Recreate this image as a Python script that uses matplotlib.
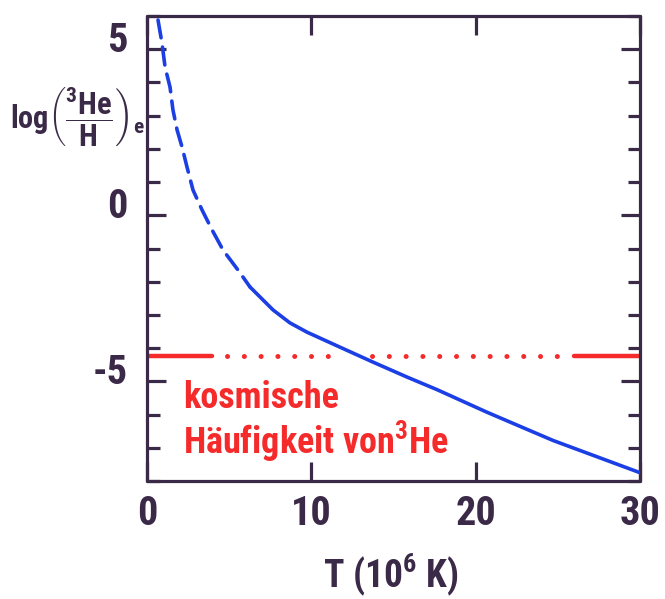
import matplotlib
matplotlib.use("Agg")
import matplotlib.pyplot as plt
import matplotlib.font_manager as fm
from matplotlib.ticker import FixedLocator, MultipleLocator
from matplotlib.transforms import ScaledTranslation

# ---- data -------------------------------------------------------------
# equilibrium 3He/H abundance vs. temperature (dashed: extrapolated part)
t_dashed = [0.67, 0.91, 1.10, 1.40, 1.58, 1.83, 2.13, 2.43, 2.80, 3.35,
            3.96, 4.63, 5.54, 6.27]
log_dashed = [5.88, 5.19, 4.46, 3.86, 3.17, 2.57, 2.06, 1.46, 0.76, 0.16,
              -0.44, -1.05, -1.65, -2.16]
t_solid = [6.27, 7.67, 8.70, 9.74, 11.74, 13.75, 15.82, 17.65, 20.69,
           24.71, 30.0]
log_solid = [-2.16, -2.85, -3.24, -3.52, -3.97, -4.42, -4.87, -5.25, -5.93,
             -6.78, -7.75]

# cosmic 3He abundance level and the pieces of its marker line
cosmic_level = -4.24
cosmic_solid_spans = [(0.0, 3.95), (26.0, 30.0)]
cosmic_dotted_spans = [(4.87, 11.7), (13.7, 25.4)]

x_ticks = [0, 10, 20, 30]
x_ticklabels = ["0", "10", "20", "30"]
y_major = [5, 0, -5]
y_ticklabels = ["5", "0", "-5"]

# ---- style ------------------------------------------------------------
INK = "#3b2948"
BLUE = "#1b3fe4"
RED = "#f52b2b"


def pick_family():
    names = {f.name for f in fm.fontManager.ttflist}
    for cand in ["Roboto Condensed", "Liberation Sans Narrow",
                 "Open Sans Condensed", "DejaVu Sans"]:
        if cand in names:
            return cand
    return "DejaVu Sans"


FAMILY = pick_family()
plt.rcParams["font.family"] = [FAMILY, "DejaVu Sans"]
plt.rcParams["font.weight"] = "bold"
plt.rcParams["mathtext.fontset"] = "custom"
plt.rcParams["mathtext.rm"] = f"{FAMILY}:bold"
plt.rcParams["mathtext.it"] = f"{FAMILY}:bold"
plt.rcParams["mathtext.bf"] = f"{FAMILY}:bold"

fig = plt.figure(figsize=(6.65, 5.99), dpi=100)
ax = fig.add_axes([147 / 665, 1 - 481 / 599, 493 / 665, 465 / 599])

# ---- curves -----------------------------------------------------------
ax.plot(t_dashed, log_dashed, color=BLUE, lw=2.6,
        linestyle=(0, (5.0, 2.6)), dash_capstyle="round",
        solid_joinstyle="round", zorder=3)
ax.plot(t_solid, log_solid, color=BLUE, lw=2.6,
        solid_capstyle="round", solid_joinstyle="round", zorder=3)

for a, b in cosmic_solid_spans:
    ax.plot([a, b], [cosmic_level, cosmic_level], color=RED, lw=3.2,
            solid_capstyle="round", zorder=2)
for a, b in cosmic_dotted_spans:
    ax.plot([a, b], [cosmic_level, cosmic_level], color=RED, lw=3.6,
            linestyle=(0, (0.01, 3.35)), dash_capstyle="round", zorder=2)

ax.text(2.2, -4.95, "kosmische", color=RED, fontsize=26,
        ha="left", va="top", fontweight="bold")
ax.text(2.2, -6.1, r"Häufigkeit von$^{3}$He", color=RED, fontsize=26,
        ha="left", va="top", fontweight="bold")

# ---- axes -------------------------------------------------------------
ax.set_xlim(0, 30)
ax.set_ylim(-8, 6)
for s in ax.spines.values():
    s.set_color(INK)
    s.set_linewidth(2.3)
    s.set_capstyle("round")

ax.xaxis.set_major_locator(FixedLocator(x_ticks))
ax.set_xticklabels(x_ticklabels)
ax.yaxis.set_major_locator(FixedLocator(y_major))
ax.yaxis.set_minor_locator(MultipleLocator(1))
ax.set_yticklabels(y_ticklabels)

ax.tick_params(which="both", direction="in", top=True, right=True,
               color=INK, width=2.3, labelcolor=INK, labelsize=29)
ax.tick_params(axis="x", which="major", length=14, pad=10)
ax.tick_params(axis="y", which="major", length=14, pad=14)
ax.tick_params(axis="y", which="minor", length=9)

# hand-lettered y labels sit a little above their ticks
for lab in ax.get_yticklabels():
    lab.set_transform(lab.get_transform() +
                      ScaledTranslation(0, 9 / 72, fig.dpi_scale_trans))

fig.text(391 / 665, 1 - 575 / 599, r"T (10$^{6}$ K)", color=INK,
         fontsize=27, ha="center", va="center", fontweight="bold")
fig.text(10 / 665, 1 - 116 / 599,
         r"$\mathrm{log}\left(\dfrac{^{3}\mathrm{He}}{\mathrm{H}}\right)_{e}$",
         color=INK, fontsize=22, ha="left", va="center")

fig.savefig("out.png", dpi=100, facecolor="white")
